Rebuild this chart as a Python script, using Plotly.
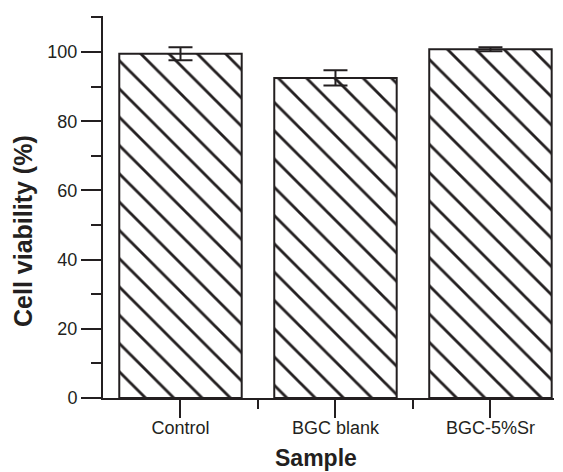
import plotly.graph_objects as go

categories = ["Control", "BGC blank", "BGC-5%Sr"]
viability = [99.5, 92.5, 100.8]
errors = [1.9, 2.2, 0.6]
y_ticks = [0, 20, 40, 60, 80, 100]

INK = "#231f20"
FONT = "Liberation Sans, Arial, sans-serif"

x_pos = list(range(len(categories)))

fig = go.Figure()
fig.add_trace(go.Bar(
    x=x_pos, y=viability, width=0.79,
    marker=dict(
        color="white",
        line=dict(color=INK, width=2),
        pattern=dict(shape="\\", fgcolor=INK, fgopacity=1, bgcolor="white",
                     size=20, solidity=0.14, fillmode="overlay"),
    ),
    error_y=dict(type="data", array=errors, visible=True, color=INK, thickness=2, width=12),
    showlegend=False,
    hoverinfo="skip",
))

fig.update_layout(
    width=563, height=472,
    margin=dict(l=103, r=9, t=16, b=74),
    plot_bgcolor="white", paper_bgcolor="white",
    font=dict(family=FONT, color=INK, size=18),
)
fig.update_xaxes(
    range=[-0.5, 2.41],
    tickmode="array", tickvals=x_pos, ticktext=categories,
    showline=True, linecolor=INK, linewidth=2,
    ticks="outside", ticklen=18, tickwidth=2, tickcolor=INK,
    ticklabelstandoff=-6,
    minor=dict(tickmode="array", tickvals=[0.5, 1.5], ticks="outside", ticklen=9, tickwidth=2, tickcolor=INK),
    showgrid=False, zeroline=False,
    tickfont=dict(size=18),
)
fig.update_yaxes(
    range=[0, 110.4],
    tickmode="array", tickvals=y_ticks,
    showline=True, linecolor=INK, linewidth=2,
    ticks="outside", ticklen=20, tickwidth=2, tickcolor=INK,
    minor=dict(tickmode="array", tickvals=[10, 30, 50, 70, 90, 110], ticks="outside", ticklen=10, tickwidth=2, tickcolor=INK),
    showgrid=False, zeroline=False,
    tickfont=dict(size=18),
)
fig.add_annotation(
    text="<b>Sample</b>", xref="paper", yref="paper",
    x=(316 - 103) / 451, y=-(458 - 398) / 382, xanchor="center", yanchor="middle",
    showarrow=False, font=dict(size=23, family=FONT, color=INK),
)
fig.add_annotation(
    text="<b>Cell viability (%)</b>", xref="paper", yref="paper",
    x=-(103 - 23) / 451, y=(398 - 231) / 382, xanchor="center", yanchor="middle",
    textangle=-90, showarrow=False, font=dict(size=25, family=FONT, color=INK),
)

fig.write_html("out.html", config={"displayModeBar": False},
               post_script="document.body.style.margin='0px';")
